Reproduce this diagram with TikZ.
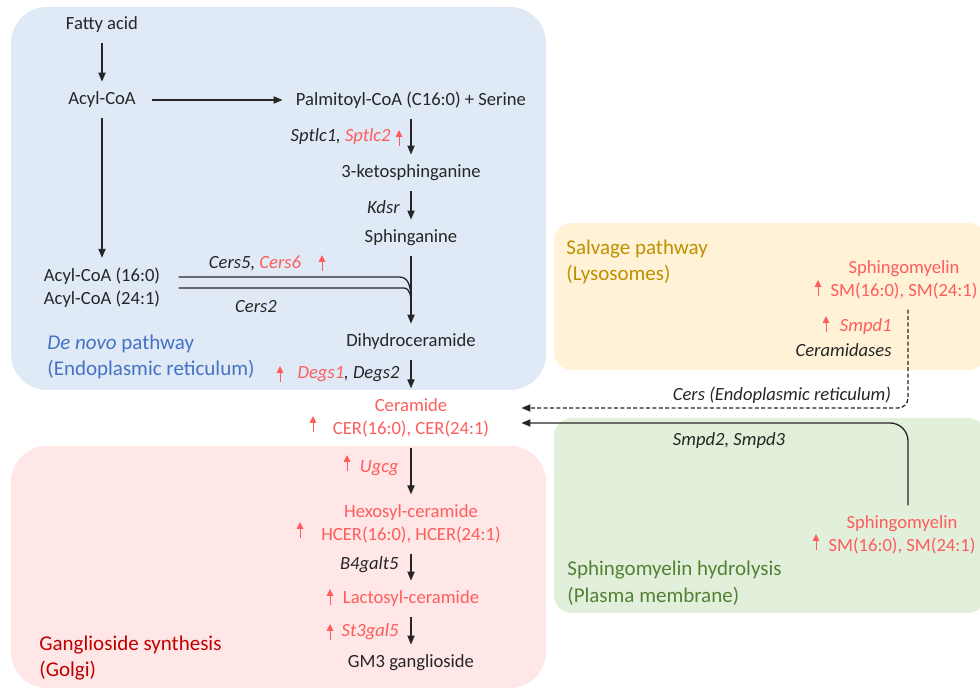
\documentclass[tikz,border=0pt]{standalone}
\usepackage{fontspec}
\setmainfont{Carlito}
\usetikzlibrary{arrows.meta,positioning,calc}
\definecolor{hlred}{RGB}{255,92,92}
\definecolor{txtgray}{RGB}{38,38,38}
\definecolor{erblue}{RGB}{223,234,246}
\definecolor{lysoyel}{RGB}{255,242,214}
\definecolor{pmgreen}{RGB}{226,239,218}
\definecolor{golgipink}{RGB}{255,231,231}
\definecolor{titleblue}{RGB}{68,114,196}
\definecolor{titlegold}{RGB}{191,144,0}
\definecolor{titlegreen}{RGB}{84,130,53}
\definecolor{titlered}{RGB}{192,0,0}
\newcommand{\hlt}[1]{\textcolor{hlred}{#1}}

\begin{document}
\begin{tikzpicture}[x=0.5pt, y=-0.5pt,
  chem/.style={font=\fontsize{9.3}{11.5}\selectfont, text=txtgray, align=center,
    inner xsep=4pt, inner ysep=5pt},
  redchem/.style={chem, text=hlred},
  enz/.style={font=\fontsize{9.3}{11.5}\selectfont\itshape, text=txtgray, inner sep=0pt},
  title/.style={font=\fontsize{10.5}{13.4}\selectfont, align=left, anchor=west, inner sep=0pt},
  arrow/.style={-{Triangle[length=4.5pt,width=3.6pt]}, line width=0.65pt, draw=txtgray},
  feed/.style={line width=0.65pt, draw=txtgray},
  upmark/.pic={\draw[hlred, line width=0.5pt, -{Triangle[length=3.4pt,width=3.2pt]}] (0,8) -- (0,-8);}
]
\useasboundingbox (0,0) rectangle (980,688);

% compartments
\fill[erblue, rounded corners=18pt] (11,7) rectangle (546,390);
\fill[lysoyel, rounded corners=9pt] (554,223) rectangle (986,370);
\fill[pmgreen, rounded corners=9pt] (554,418) rectangle (986,613);
\fill[golgipink, rounded corners=18pt] (11,446) rectangle (546,688);

% metabolites
\node[chem] (fa) at (102,25) {Fatty acid};
\node[chem] (acyl) at (102,100) {Acyl-CoA};
\node[chem] (palm) at (411,100) {Palmitoyl-CoA (C16:0) + Serine};
\node[chem] (keto) at (411,173) {3-ketosphinganine};
\node[chem] (sph) at (411,238) {Sphinganine};
\node[chem] (dih) at (411,342) {Dihydroceramide};
\node[chem] (acyls) at (102,288) {Acyl-CoA (16:0)\\Acyl-CoA (24:1)};
\node[redchem] (cer) at (411,418) {Ceramide\\CER(16:0), CER(24:1)};
\node[redchem] (hex) at (411,524) {Hexosyl-ceramide\\HCER(16:0), HCER(24:1)};
\node[redchem] (lac) at (411,599) {Lactosyl-ceramide};
\node[chem] (gm3) at (411,663) {GM3 ganglioside};
\node[redchem] (smlys) at (904,280) {Sphingomyelin\\SM(16:0), SM(24:1)};
\node[redchem] (smpm) at (902,535) {Sphingomyelin\\SM(16:0), SM(24:1)};

% enzymes
\node[enz, anchor=east] (sptlc) at (391,137) {Sptlc1, \hlt{Sptlc2}};
\node[enz, anchor=east] (kdsr) at (400,207) {Kdsr};
\node[enz] (cers56) at (255,263) {Cers5, \hlt{Cers6}};
\node[enz] (cers2) at (256,307) {Cers2};
\node[enz, anchor=east] (degs) at (400,374) {\hlt{Degs1}, Degs2};
\node[enz, anchor=east, text=hlred] (ugcg) at (399,468) {Ugcg};
\node[enz, anchor=east] (b4) at (399,565) {B4galt5};
\node[enz, anchor=east, text=hlred] (st3) at (399,632) {St3gal5};
\node[enz, anchor=east, text=hlred] (smpd1) at (892,327) {Smpd1};
\node[enz, anchor=east] (cdase) at (892,350) {Ceramidases};
\node[enz] (cerser) at (782,395) {Cers (Endoplasmic reticulum)};
\node[enz] (smpd23) at (729,441) {Smpd2, Smpd3};

% compartment titles
\node[title, text=titleblue] (denovo) at (47,357) {\textit{De novo} pathway\\(Endoplasmic reticulum)};
\node[title, text=titlegold] (salv) at (566,262) {Salvage pathway\\(Lysosomes)};
\node[title, text=titlered] (golgi) at (39,658) {Ganglioside synthesis\\(Golgi)};
\node[title, text=titlegreen] (hydro) at (567,583) {Sphingomyelin hydrolysis\\(Plasma membrane)};

% reactions
\draw[arrow] (fa) -- (acyl);
\draw[arrow, shorten <=4pt, shorten >=2.5pt] (acyl) -- (palm);
\draw[arrow] (acyl) -- (acyls);
\draw[arrow] (palm) -- (keto);
\draw[arrow] (keto) -- (sph);
\draw[arrow] (sph) -- (dih);
\draw[arrow] (dih) -- (cer);
\draw[arrow] (cer) -- (hex);
\draw[arrow] (hex) -- (lac);
\draw[arrow] (lac) -- (gm3);

\coordinate (merge) at (411,304);
\draw[feed] ([xshift=5pt,yshift=5.5pt]acyls.east) -- ++(221,0) to[out=0,in=90] (merge);
\draw[feed] ([xshift=5pt]acyls.east) -- ++(225,0) to[out=0,in=90] (merge);

\draw[arrow, dash pattern=on 2pt off 1.2pt, rounded corners=5pt]
  ([xshift=2pt]smlys.south) |- ([xshift=12pt,yshift=5pt]cer.east);
\draw[arrow, rounded corners=9pt]
  ([xshift=3pt]smpm.north) |- ([xshift=12pt,yshift=-2.5pt]cer.east);

% up-regulated
\pic at (399,138) {upmark};
\pic at (322,263) {upmark};
\pic at (280,374) {upmark};
\pic at (313,424) {upmark};
\pic at (347,463) {upmark};
\pic at (300,530) {upmark};
\pic at (330,597) {upmark};
\pic at (330,632) {upmark};
\pic at (818,288) {upmark};
\pic at (826,324) {upmark};
\pic at (816,542) {upmark};
\end{tikzpicture}
\end{document}
